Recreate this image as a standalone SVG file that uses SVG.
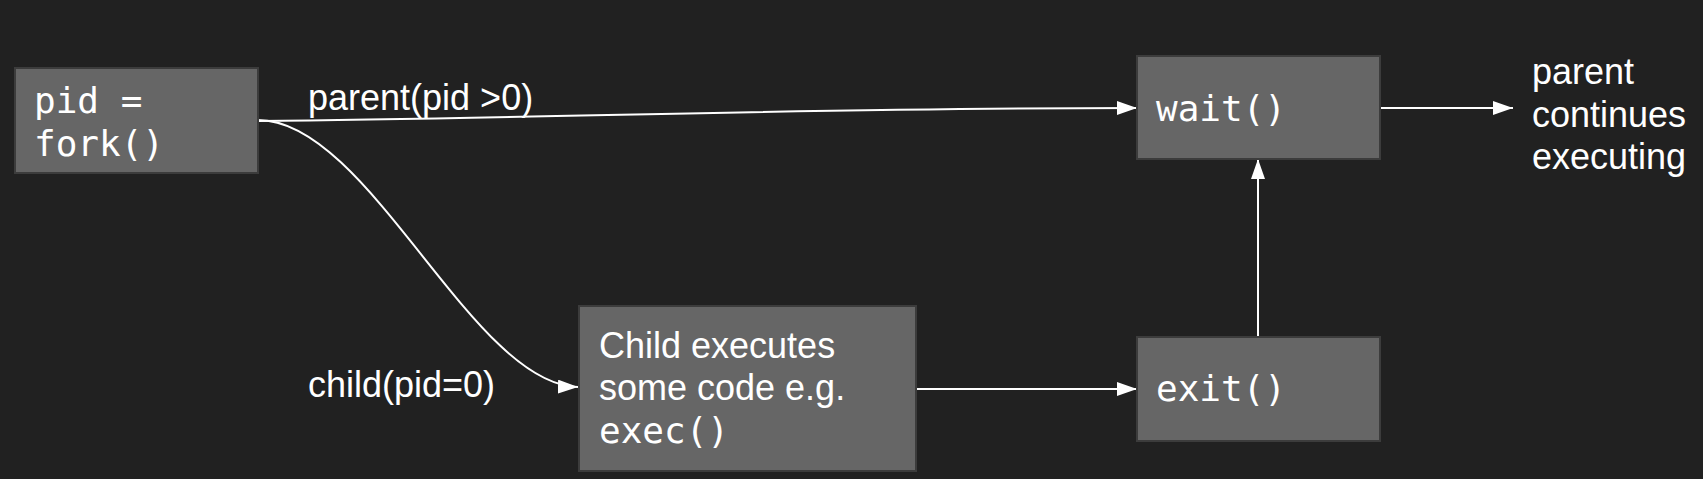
<svg xmlns="http://www.w3.org/2000/svg" width="1703" height="479" viewBox="0 0 1703 479">
<defs>
<style>
.box{fill:#666666;stroke:#3c3c3c;stroke-width:2}
.mono{font-family:"DejaVu Sans Mono","Liberation Mono",monospace;font-size:36px;fill:#ffffff}
.sans{font-family:"Liberation Sans",Arial,sans-serif;font-size:36px;fill:#ffffff}
.edge{fill:none;stroke:#ffffff;stroke-width:2}
</style>
<marker id="arr" viewBox="0 0 20 14" refX="20" refY="7" markerWidth="20" markerHeight="14" markerUnits="userSpaceOnUse" orient="auto">
<path d="M0,0 L20,7 L0,14 Z" fill="#ffffff"/>
</marker>
</defs>
<rect x="0" y="0" width="1703" height="479" fill="#212121"/>
<g id="connectors">
<path class="edge" d="M258,121 C560,118 800,108 1137,108" marker-end="url(#arr)"/>
<path class="edge" d="M258,120 C369,120 472,385 578,387" marker-end="url(#arr)"/>
<path class="edge" d="M916,389 L1137,389" marker-end="url(#arr)"/>
<path class="edge" d="M1258,337 L1258,159" marker-end="url(#arr)"/>
<path class="edge" d="M1380,108 L1513,108" marker-end="url(#arr)"/>
</g>
<g id="label-parent"><text class="sans" x="308" y="110">parent(pid &gt;0)</text></g>
<g id="label-child"><text class="sans" x="308" y="397">child(pid=0)</text></g>
<g id="node-fork">
<rect class="box" x="15" y="68" width="243" height="105"/>
<text class="mono" x="34" y="113">pid =</text>
<text class="mono" x="34" y="156">fork()</text>
</g>
<g id="node-wait">
<rect class="box" x="1137" y="56" width="243" height="103"/>
<text class="mono" x="1156" y="121">wait()</text>
</g>
<g id="node-child">
<rect class="box" x="579" y="306" width="337" height="165"/>
<text class="sans" x="599" y="358">Child executes</text>
<text class="sans" x="599" y="400">some code e.g.</text>
<text class="mono" x="599" y="443">exec()</text>
</g>
<g id="node-exit">
<rect class="box" x="1137" y="337" width="243" height="104"/>
<text class="mono" x="1156" y="401">exit()</text>
</g>
<g id="label-continue">
<text class="sans" x="1532" y="84">parent</text>
<text class="sans" x="1532" y="127">continues</text>
<text class="sans" x="1532" y="169">executing</text>
</g>
</svg>
